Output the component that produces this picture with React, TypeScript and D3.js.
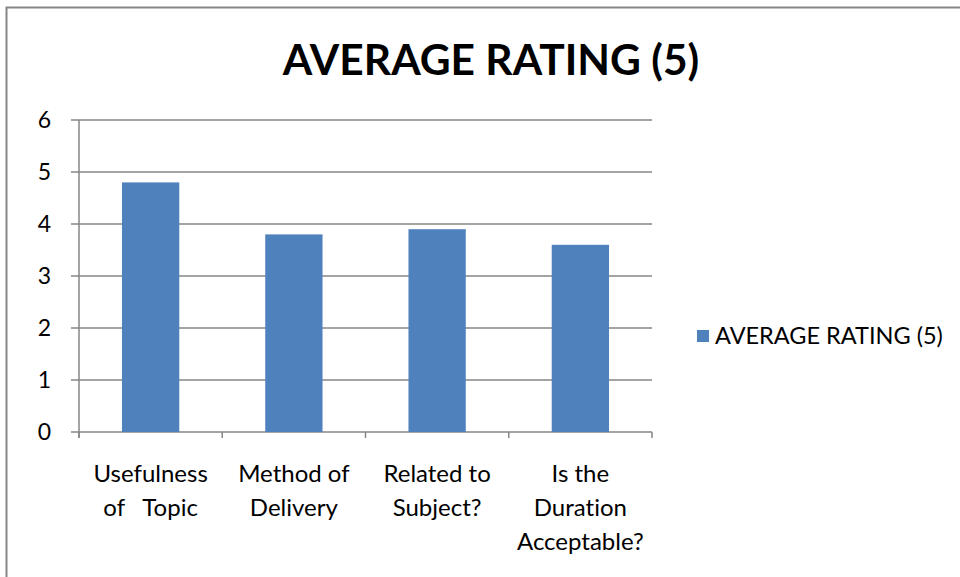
import React, { useEffect, useRef } from 'react';
import * as d3 from 'd3';

const title = 'AVERAGE RATING (5)';
const seriesName = 'AVERAGE RATING (5)';
const categories = ['Usefulness', 'Method', 'Related', 'Duration'];
const categoryLines = [
  ['Usefulness', 'of   Topic'],
  ['Method of', 'Delivery'],
  ['Related to', 'Subject?'],
  ['Is the', 'Duration', 'Acceptable?'],
];
const values = [4.8, 3.8, 3.9, 3.6];
const yTicks = [0, 1, 2, 3, 4, 5, 6];

export default function App() {
  const svgRef = useRef<SVGSVGElement>(null);

  useEffect(() => {
    const svg = d3.select(svgRef.current);
    svg.selectAll('*').remove();

    const width = 960;
    const height = 577;
    const font = 'Lato, "Open Sans", sans-serif';
    const grey = '#868686';
    const barColor = '#4f81bd';

    const left = 79;
    const right = 652;
    const top = 120;
    const bottom = 432;

    // outer chart border
    svg.append('rect')
      .attr('x', 6.5).attr('y', 7.5)
      .attr('width', width + 10).attr('height', height + 10)
      .attr('fill', 'white')
      .attr('stroke', grey).attr('stroke-width', 2);

    const x = d3.scaleBand<string>()
      .domain(categories)
      .range([left, right])
      .padding(0);

    const y = d3.scaleLinear().domain([0, 6]).range([bottom, top]);

    // gridlines + y ticks
    svg.append('g')
      .selectAll('line')
      .data(yTicks)
      .enter()
      .append('line')
      .attr('x1', left - 8)
      .attr('x2', right)
      .attr('y1', d => y(d))
      .attr('y2', d => y(d))
      .attr('stroke', grey)
      .attr('stroke-width', 1.5);

    svg.append('g')
      .selectAll('text')
      .data(yTicks)
      .enter()
      .append('text')
      .attr('x', 51)
      .attr('y', d => y(d))
      .attr('dy', '0.36em')
      .attr('text-anchor', 'end')
      .attr('font-family', font)
      .attr('font-size', 23)
      .attr('fill', '#000')
      .text(d => d);

    // y axis line
    svg.append('line')
      .attr('x1', left).attr('x2', left)
      .attr('y1', top).attr('y2', bottom + 6)
      .attr('stroke', grey).attr('stroke-width', 1.5);

    // x axis ticks between categories
    const xTicks = categories.map(c => x(c) as number).concat([right]);
    svg.append('g')
      .selectAll('line')
      .data(xTicks)
      .enter()
      .append('line')
      .attr('x1', d => d).attr('x2', d => d)
      .attr('y1', bottom).attr('y2', bottom + 6)
      .attr('stroke', grey).attr('stroke-width', 1.5);

    // bars
    const barW = x.bandwidth() * 0.4;
    svg.append('g')
      .selectAll('rect')
      .data(values)
      .enter()
      .append('rect')
      .attr('x', (d, i) => (x(categories[i]) as number) + (x.bandwidth() - barW) / 2)
      .attr('y', d => y(d))
      .attr('width', barW)
      .attr('height', d => bottom - y(d))
      .attr('fill', barColor);

    // category labels
    const labels = svg.append('g')
      .style('font-variant-ligatures', 'none')
      .style('font-feature-settings', '"liga" 0');
    categoryLines.forEach((lines, i) => {
      const cx = (x(categories[i]) as number) + x.bandwidth() / 2;
      lines.forEach((ln, j) => {
        labels.append('text')
          .attr('x', cx)
          .attr('y', 482 + j * 34)
          .attr('text-anchor', 'middle')
          .attr('font-family', font)
          .attr('font-size', 24)
          .style('white-space', 'pre')
          .attr('fill', '#000')
          .text(ln);
      });
    });

    // title
    svg.append('text')
      .attr('x', 491)
      .attr('y', 75)
      .attr('text-anchor', 'middle')
      .attr('font-family', font)
      .attr('font-weight', 'bold')
      .attr('font-size', 42.5)
      .attr('fill', '#000')
      .text(title);

    // legend
    svg.append('rect')
      .attr('x', 697).attr('y', 330)
      .attr('width', 12).attr('height', 12)
      .attr('fill', barColor);
    svg.append('text')
      .attr('x', 715).attr('y', 336)
      .attr('dy', '0.36em')
      .attr('font-family', font)
      .attr('font-size', 23.5)
      .attr('fill', '#000')
      .text(seriesName);
  }, []);

  return (
    <div style={{ position: 'absolute', left: 0, top: 0, width: 960, height: 577, overflow: 'hidden' }}>
      <svg ref={svgRef} width={960} height={577} />
    </div>
  );
}
